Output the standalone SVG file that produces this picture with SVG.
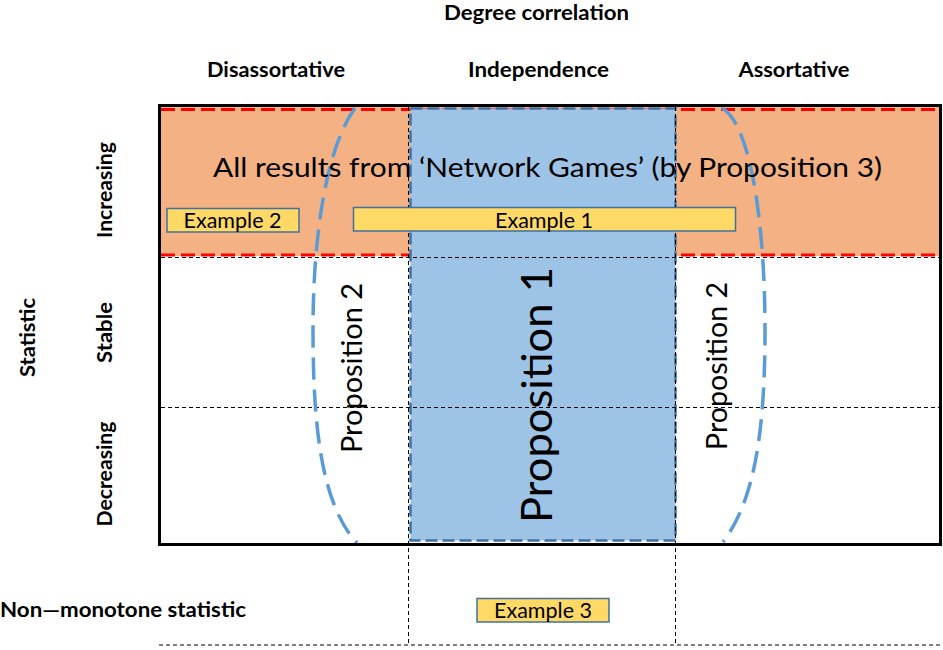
<svg xmlns="http://www.w3.org/2000/svg" width="943" height="650" viewBox="0 0 943 650">
<style>
.b{font-family:Lato,"Liberation Sans",sans-serif;font-weight:bold;font-size:21.6px;fill:#000}
.r{font-family:Lato,"Liberation Sans",sans-serif;font-weight:normal;fill:#000}
.grid{stroke:#000;stroke-width:1;stroke-dasharray:4 3;fill:none}
.red{stroke:#FF0000;stroke-width:3;stroke-dasharray:14 6;fill:none}
.ell{stroke:#5B9BD5;stroke-width:3.5;stroke-dasharray:22 10;fill:none;stroke-linecap:butt}
.ex{fill:#FFD966;stroke:#41719C;stroke-width:1.5}
</style>
<rect width="943" height="650" fill="#fff"/>
<g id="increasing-band">
<rect x="161" y="107" width="778" height="149" fill="#F4B183"/>
<line class="red" x1="161" y1="109.5" x2="939" y2="109.5"/>
<line class="red" x1="161" y1="255" x2="939" y2="255"/>
</g>
<g id="proposition1-area">
<rect x="410.5" y="108.5" width="265" height="432" fill="#9DC3E6" stroke="#41719C" stroke-width="2.5" stroke-dasharray="12 5"/>
</g>
<g id="grid">
<line class="grid" x1="161" y1="257.5" x2="940" y2="257.5"/>
<line class="grid" x1="161" y1="407.5" x2="940" y2="407.5"/>
<line class="grid" x1="408.5" y1="107" x2="408.5" y2="645"/>
<line class="grid" x1="675.5" y1="107" x2="675.5" y2="645"/>
<line class="grid" x1="159" y1="645" x2="943" y2="645"/>
</g>
<g id="connectors">
<path id="prop2-left-arc" class="ell" d="M355,108 C325,150 313,240 313,330 C313,430 322,505 357,543"/>
<path id="prop2-right-arc" class="ell" d="M722,108 C752,125 765,230 765,330 C765,430 755,500 723,542"/>
</g>
<g id="frame">
<rect x="159.5" y="105.5" width="781" height="439" fill="none" stroke="#000" stroke-width="3"/>
</g>
<g id="headers">
<text class="b" x="536.5" y="20" text-anchor="middle" textLength="185" lengthAdjust="spacingAndGlyphs">Degree correlation</text>
<text class="b" x="276" y="77" text-anchor="middle" textLength="138" lengthAdjust="spacingAndGlyphs">Disassortative</text>
<text class="b" x="538.5" y="77" text-anchor="middle" textLength="141" lengthAdjust="spacingAndGlyphs">Independence</text>
<text class="b" x="794" y="77" text-anchor="middle" textLength="111" lengthAdjust="spacingAndGlyphs">Assortative</text>
<text class="b" transform="translate(34.5,337.5) rotate(-90)" text-anchor="middle" textLength="79" lengthAdjust="spacingAndGlyphs">Statistic</text>
<text class="b" transform="translate(111.5,190) rotate(-90)" text-anchor="middle" textLength="96" lengthAdjust="spacingAndGlyphs">Increasing</text>
<text class="b" transform="translate(111.5,332.5) rotate(-90)" text-anchor="middle" textLength="61" lengthAdjust="spacingAndGlyphs">Stable</text>
<text class="b" transform="translate(111.5,474) rotate(-90)" text-anchor="middle" textLength="105" lengthAdjust="spacingAndGlyphs">Decreasing</text>
<text class="b" x="0" y="617" textLength="246" lengthAdjust="spacingAndGlyphs">Non—monotone statistic</text>
</g>
<g id="network-games-label">
<text class="r" x="547.5" y="177" text-anchor="middle" font-size="26.5" textLength="669" lengthAdjust="spacingAndGlyphs">All results from ‘Network Games’ (by Proposition 3)</text>
</g>
<g id="proposition1">
<text class="r" transform="translate(551.5,395) rotate(-90)" text-anchor="middle" font-size="43" textLength="256" lengthAdjust="spacingAndGlyphs">Proposition 1</text>
</g>
<g id="proposition2-left">
<text class="r" transform="translate(361.5,368) rotate(-90)" text-anchor="middle" font-size="28.8" textLength="170" lengthAdjust="spacingAndGlyphs">Proposition 2</text>
</g>
<g id="proposition2-right">
<text class="r" transform="translate(726.5,366) rotate(-90)" text-anchor="middle" font-size="28.8" textLength="168" lengthAdjust="spacingAndGlyphs">Proposition 2</text>
</g>
<g id="example2">
<rect class="ex" x="167" y="208.5" width="132" height="23.5"/>
<text class="r" x="232.5" y="228" text-anchor="middle" font-size="22" textLength="98" lengthAdjust="spacingAndGlyphs">Example 2</text>
</g>
<g id="example1">
<rect class="ex" x="353.5" y="207.5" width="382" height="23.5"/>
<text class="r" x="544" y="227.5" text-anchor="middle" font-size="22" textLength="98" lengthAdjust="spacingAndGlyphs">Example 1</text>
</g>
<g id="example3">
<rect class="ex" x="477" y="598.5" width="132" height="23.5"/>
<text class="r" x="543" y="618" text-anchor="middle" font-size="22" textLength="98" lengthAdjust="spacingAndGlyphs">Example 3</text>
</g>
</svg>
